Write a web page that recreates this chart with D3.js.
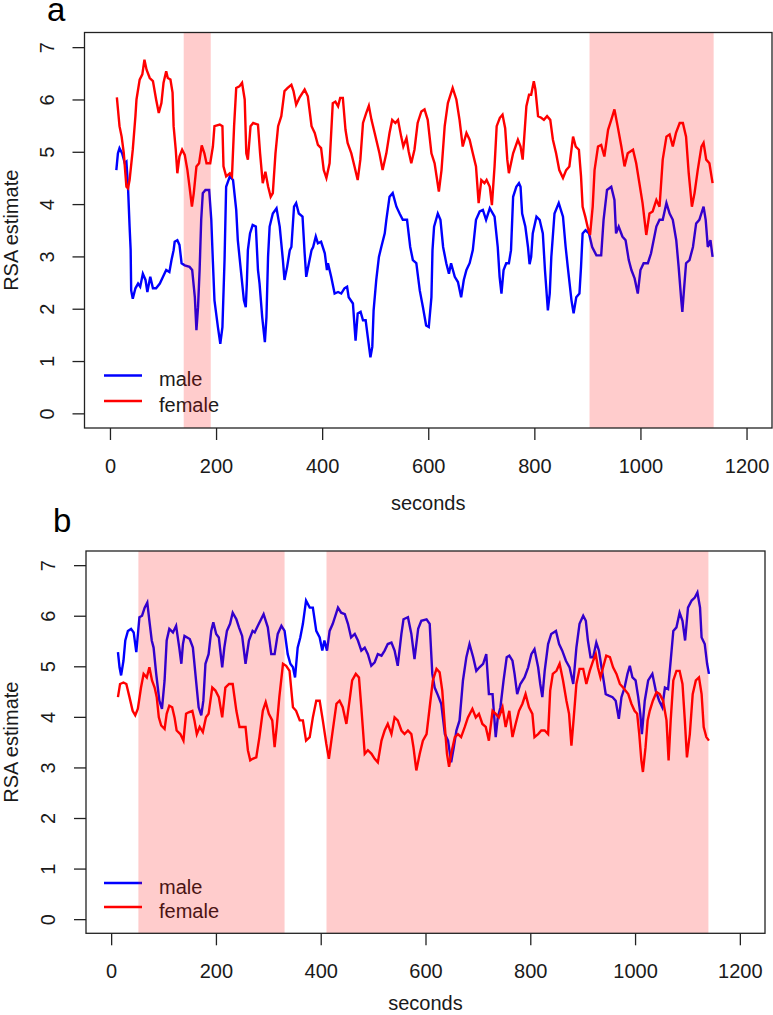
<!DOCTYPE html>
<html><head><meta charset="utf-8">
<script src="https://cdn.jsdelivr.net/npm/d3@7"></script>
<style>html,body{margin:0;padding:0;background:#fff}svg{display:block}</style>
</head><body>
<svg id="chart" width="773" height="1015"></svg>
<script>
// ---------------- data ----------------
const xTicks = [0, 200, 400, 600, 800, 1000, 1200];
const yTicks = [0, 1, 2, 3, 4, 5, 6, 7];
const seriesNames = ["male", "female"];

// panel a shaded intervals (seconds)
const aShade = [[139, 190], [904, 1138]];
// panel b shaded intervals (seconds)
const bShade = [[52, 331], [411, 1140]];

// panel a, male  [seconds, RSA]
const aMale = [[12,4.65],[15,4.97],[18,5.07],[23,4.97],[28,4.78],[31,4.81],[34,4.33],[37,3.57],[39,3.12],[40,2.35],[43,2.19],[48,2.39],[53,2.48],[57,2.42],[62,2.67],[67,2.55],[70.5,2.32],[76,2.61],[81,2.39],[87,2.39],[94,2.48],[100,2.61],[106,2.74],[112,2.70],[116,2.93],[120,3.12],[122,3.28],[127,3.31],[131,3.22],[135,2.87],[141,2.83],[150,2.80],[155,2.74],[160,2.22],[163,1.59],[166,2.03],[169,2.74],[172,3.70],[175,4.21],[180,4.27],[187,4.27],[191,3.70],[194,2.9],[197,2.16],[203.5,1.65],[208,1.33],[212,1.65],[216,2.93],[219,4.33],[226,4.53],[232,4.46],[238,3.89],[241,3.31],[248,2.61],[252.5,2.16],[256,2.03],[258,2.48],[260,3.12],[264,3.44],[269,3.60],[275,3.57],[279,2.74],[282,2.48],[287,1.84],[292,1.36],[295,1.84],[298,2.99],[301,3.57],[307,3.82],[314,3.92],[320,3.57],[326,2.93],[329,2.55],[334,2.80],[339,3.12],[342,3.18],[347,3.95],[351,4.02],[356,3.82],[363,3.76],[367,3.06],[370,2.61],[375,2.87],[380,3.12],[383,3.18],[388,3.38],[392,3.25],[398,3.28],[405,3.06],[409,2.74],[411,2.87],[417,2.61],[423.5,2.29],[430,2.32],[436,2.29],[442,2.39],[447,2.42],[450,2.22],[458,2.10],[463,1.39],[467,1.91],[472.5,1.94],[477,1.78],[482,1.78],[486,1.46],[491,1.07],[494.5,1.27],[497,1.97],[502,2.55],[507,2.99],[511.5,3.18],[518,3.44],[521,3.70],[527,4.14],[533,4.21],[540,3.95],[546,3.82],[552,3.70],[560,3.70],[566,3.18],[571,2.93],[577.5,2.87],[584,2.35],[590,2.03],[596,1.68],[601,1.65],[606,2.22],[608,3.12],[611,3.57],[618,3.82],[623,3.70],[628,3.18],[634,2.87],[639,2.67],[643,2.87],[650,2.61],[656,2.51],[662,2.22],[667,2.55],[672,2.74],[678,2.87],[684,3.12],[690,3.70],[697,3.86],[703,3.89],[709,3.70],[716,3.92],[725,3.76],[731,3.18],[734.5,2.61],[738,2.29],[742,2.74],[747,2.87],[752,2.87],[756,3.12],[760,4.14],[766,4.33],[771,4.40],[774,4.33],[777,3.82],[783,3.57],[788,3.18],[791,2.85],[794,2.99],[797,3.44],[804,3.76],[810,3.70],[816,3.44],[820,2.74],[825.5,1.97],[829,2.29],[832,2.99],[838,3.82],[846,4.02],[854,3.76],[859,3.18],[863,2.80],[870,2.16],[874,1.91],[879,2.22],[885,2.29],[888,2.80],[891,3.44],[896.5,3.50],[903,3.44],[909,3.18],[917,3.02],[926,3.02],[930.5,3.70],[937,4.27],[945,4.33],[951,4.08],[954,3.44],[959,3.57],[966,3.38],[972,3.31],[978,2.93],[983,2.74],[989,2.58],[995,2.29],[1000,2.74],[1006,2.87],[1014,2.87],[1020,3.06],[1030,3.57],[1036,3.70],[1042,3.70],[1049,4.02],[1055,3.82],[1061,3.70],[1067.5,3.31],[1072,2.80],[1077,2.16],[1079,1.94],[1082,2.35],[1086,2.87],[1092.5,2.93],[1099,3.18],[1105,3.63],[1111,3.70],[1119,3.95],[1123,3.70],[1127,3.18],[1132,3.31],[1136,2.99]];

// panel a, female
const aFemale = [[13,6.04],[18,5.49],[22,5.29],[26,4.98],[31,4.33],[34,4.30],[37,4.46],[43,5.04],[48,5.68],[50,6.0],[56,6.38],[61,6.48],[65,6.76],[69,6.57],[75,6.41],[81,6.35],[87,6.0],[92,5.74],[97,5.93],[101,6.32],[106,6.54],[109,6.41],[114,6.38],[118,6.13],[120,5.49],[124,5.04],[127,4.59],[131,4.91],[136,5.04],[141,4.94],[146,4.65],[150,4.33],[154.5,3.95],[158,4.21],[163,4.72],[168,4.78],[173,5.12],[178,4.97],[182,4.78],[189,4.78],[194,5.10],[197,5.49],[207,5.52],[212,5.49],[214,4.72],[219,4.53],[226,4.59],[230,4.53],[234,5.49],[238,6.22],[244,6.25],[249,6.32],[254,6.0],[257,4.97],[260,4.85],[265,5.49],[270,5.55],[279,5.52],[283,4.97],[288,4.40],[293,4.62],[298,4.34],[303,4.14],[307,4.21],[312,4.97],[317,5.49],[323,5.68],[329,6.16],[335,6.22],[342,6.28],[346,6.16],[351,5.90],[357,6.03],[367,6.19],[373,6.06],[380,5.49],[386,5.36],[392,5.13],[398,5.07],[403,4.65],[408,4.50],[414,4.78],[420,5.93],[425,5.96],[430,5.87],[434,6.03],[439,6.03],[444,5.42],[448,5.17],[455,4.97],[461,4.72],[467,4.46],[472,4.85],[477,5.55],[483,5.74],[488,5.88],[493,5.61],[499,5.36],[508,4.97],[514,4.65],[521,4.97],[527,5.36],[532,5.61],[538,5.55],[543,5.61],[549,5.29],[553,5.10],[559,5.26],[563,5.01],[568,4.78],[574,5.04],[580,5.55],[587,5.77],[593,5.81],[599,5.61],[606,4.97],[612,4.78],[620,4.24],[625,4.65],[631,5.49],[637,5.93],[646,6.22],[653,6.0],[659,5.61],[665,5.10],[672,5.36],[678,5.23],[684,4.97],[690,4.72],[695,4.02],[700,4.46],[706,4.40],[710,4.46],[716,4.33],[720,3.98],[725,4.72],[729,5.49],[735,5.65],[740,5.71],[745,5.45],[749,4.85],[752,4.59],[760,4.97],[769,5.23],[774,5.10],[778,4.85],[785,5.87],[790,6.09],[794,6.09],[799,6.35],[802,6.19],[807,5.68],[813,5.65],[818,5.61],[824,5.68],[830,5.61],[835,5.23],[841,4.97],[847,4.65],[854,4.50],[860,4.65],[866,4.72],[873,5.29],[878,5.10],[884,5.04],[888,4.53],[891,3.95],[896,3.76],[901,3.54],[905,3.41],[910,3.95],[913.5,4.65],[920,5.10],[926,5.13],[932,4.91],[939,5.42],[945,5.61],[951,5.81],[957,5.49],[964,5.10],[970,4.72],[976,4.97],[986,5.04],[992,4.78],[998,4.40],[1004,4.02],[1011,3.41],[1017,3.82],[1023,3.86],[1030,4.08],[1036,3.95],[1042,4.85],[1049,5.29],[1055,5.33],[1061,5.10],[1067,5.36],[1074,5.55],[1080,5.55],[1086,5.29],[1091,4.59],[1097,3.95],[1102,4.21],[1108,4.65],[1115,5.10],[1119,5.17],[1124,4.85],[1130,4.78],[1136,4.40]];

// panel b, male
const bMale = [[13,5.28],[16,4.98],[19,4.82],[23.5,5.11],[27,5.51],[32,5.70],[38,5.74],[43,5.67],[48,5.28],[50,5.51],[54,5.97],[59,6.0],[64,6.16],[69,6.26],[73,5.90],[77.5,5.51],[81,5.37],[86,4.85],[92,4.32],[97,4.16],[102,4.72],[106,5.51],[111,5.74],[118,5.67],[124,5.80],[130,5.37],[134,5.05],[137,5.44],[140,5.60],[150,5.54],[156,5.37],[162,4.72],[167,4.19],[172,4.03],[176,4.32],[180,5.05],[186,5.24],[191,5.70],[195,5.87],[200.5,5.64],[205.5,5.57],[212,4.98],[216,5.37],[221,5.70],[227,5.84],[232,6.06],[239,5.93],[244,5.77],[250,5.60],[256.5,5.05],[263,5.51],[270,5.70],[274,5.67],[280,5.80],[291,6.03],[299,5.77],[305.6,5.24],[312,5.24],[318,5.64],[325,5.80],[331,5.70],[337,5.24],[342,5.05],[347,4.98],[351,4.78],[356,5.37],[361,5.57],[366,5.84],[372,6.30],[379,6.16],[385,6.16],[391.5,5.70],[398,5.57],[403,5.31],[407,5.51],[412,5.31],[417,5.70],[423,5.84],[433,6.16],[439,6.06],[446,6.03],[452,5.84],[458,5.57],[465,5.64],[471,5.51],[477.5,5.31],[484,5.37],[490,5.24],[496.5,5.01],[503,5.08],[509,5.24],[516,5.21],[522,5.31],[528,5.44],[535,5.47],[541,5.31],[547,5.01],[554,5.64],[558,5.93],[566.5,5.97],[573,5.64],[579,5.14],[586,5.74],[592,5.90],[602,5.93],[608,5.84],[613,4.85],[617.5,4.58],[624,4.42],[630,4.26],[637,3.66],[643,3.53],[649,3.10],[654,3.40],[659,3.73],[665,3.93],[671.5,4.72],[678,5.18],[684,5.44],[691,5.18],[697,4.91],[703,4.98],[710,5.05],[716,5.24],[721,4.45],[728,4.45],[734,3.60],[738,3.99],[743,4.19],[749,4.72],[755,5.18],[760,5.21],[766,5.11],[770,4.85],[775,4.45],[781,4.65],[789,4.78],[796,4.98],[802,5.24],[808,5.34],[815,4.98],[819,4.65],[823,4.39],[827.5,4.91],[834,5.44],[840,5.64],[849,5.70],[855,5.44],[861,5.31],[868,5.11],[875,4.98],[882,4.65],[888,5.37],[894,5.84],[901,6.0],[906,5.90],[910,5.51],[915,5.18],[920,5.18],[926,5.47],[931,5.31],[936,4.98],[940,4.72],[944,4.45],[950,4.42],[957,4.39],[963,4.32],[969,3.96],[974,4.39],[980,4.58],[985.5,4.85],[990,5.01],[995,4.78],[1001,4.72],[1006,4.39],[1010,4.06],[1013,3.66],[1018.5,4.32],[1025,4.72],[1033,4.85],[1039.5,4.52],[1046,4.32],[1052,4.19],[1057,4.58],[1063,4.55],[1068,5.11],[1073,5.70],[1079,5.77],[1085,6.06],[1090.5,5.90],[1095.5,5.51],[1101,6.16],[1108,6.30],[1114,6.36],[1119,6.46],[1124,6.16],[1127,5.57],[1133,5.44],[1137.5,5.05],[1141,4.85]];

// panel b, female
const bFemale = [[13,4.39],[17,4.65],[23.5,4.68],[29,4.65],[35,4.39],[41,4.12],[46,4.03],[51,4.16],[57,4.58],[62,4.85],[68,4.78],[73,4.98],[78,4.72],[83,4.58],[87,4.39],[91,3.99],[95.5,3.83],[102,3.76],[106,4.06],[111,4.22],[116.5,4.19],[121,3.99],[125,3.73],[132,3.66],[138,3.53],[143,4.06],[148,4.09],[155,4.12],[159,3.93],[163.5,3.66],[169,3.80],[175,3.70],[181,3.99],[186,4.06],[193,4.58],[199,4.52],[205.5,4.39],[212,3.99],[218,4.58],[225,4.65],[232,4.65],[239,4.12],[245,3.80],[256.5,3.80],[261,3.34],[265.5,3.14],[270,3.17],[277,3.20],[283,3.60],[289.5,4.12],[295,4.29],[301,4.06],[307.5,3.93],[312,3.40],[316,3.80],[321,4.39],[328,5.05],[334,5.01],[340.5,4.91],[347,4.19],[353,4.12],[360,3.93],[366,3.93],[372,3.53],[379,3.60],[385,3.99],[391.5,4.32],[398,4.32],[404,3.93],[410.6,3.47],[415.6,3.17],[422,3.66],[430,4.26],[436,4.32],[442,4.19],[449,3.86],[455,4.32],[460,4.72],[467,4.85],[473,4.78],[477.5,4.19],[484,3.27],[490,3.34],[497,3.27],[503,3.17],[509,3.10],[516,3.53],[522,3.73],[528,3.86],[535,3.66],[541,3.99],[547,3.93],[554,3.73],[560,3.66],[566.5,3.73],[573,3.66],[577,3.40],[582.5,2.94],[589,3.27],[595,3.53],[602,3.66],[608,4.19],[614,4.72],[621,4.95],[627,4.88],[632,4.52],[637,3.80],[641,3.27],[645,3.01],[649,3.27],[656,3.60],[662,3.66],[668,3.60],[675,3.80],[681,3.99],[689.5,4.16],[696,3.99],[702,4.06],[708.6,3.86],[715,3.80],[721,3.53],[728,4.12],[734,4.06],[740,3.99],[747,4.19],[753,3.80],[760,4.12],[766,3.60],[772,3.86],[778.5,4.12],[785,4.26],[791,4.45],[797.6,4.19],[804,4.06],[808,3.60],[815,3.66],[821,3.73],[827.5,3.73],[834,3.66],[838,4.52],[843,4.85],[850,4.91],[856,5.05],[862.5,4.72],[869,4.32],[874,4.06],[878.5,3.43],[883,3.99],[888,4.65],[894,4.95],[901,4.95],[907,4.65],[913.5,4.91],[920,5.11],[925,5.24],[929,4.98],[934,4.78],[939,4.98],[945,5.21],[952,5.18],[958,4.98],[964.5,4.85],[971,4.65],[977,4.58],[987,4.45],[993,4.26],[999,4.12],[1004,4.06],[1008,3.66],[1012,3.14],[1015,2.91],[1020,3.40],[1024,3.93],[1028,4.12],[1034,4.32],[1041,4.49],[1047,4.45],[1053.5,4.32],[1060,3.93],[1064,3.14],[1068,3.93],[1073,4.72],[1079,4.91],[1085,4.91],[1090.5,4.65],[1095,3.93],[1099,3.20],[1104.5,3.66],[1110,4.45],[1116,4.72],[1122,4.78],[1127,4.45],[1131,3.80],[1136,3.60],[1141,3.53]];

// ---------------- drawing ----------------
const FONT = "'Liberation Sans', Arial, Helvetica, sans-serif";
const TXT = "#1a1a1a";
const svg = d3.select("#chart");
svg.append("rect").attr("width", 773).attr("height", 1015).attr("fill", "#fff");

const panels = [
  { label: "a", male: aMale, female: aFemale, shade: aShade,
    box: { l: 84.5, r: 772, t: 32.5, b: 428 },
    labelPos: [47, 21], yTickLabX: 54, xTickLabY: 473, xTitleY: 510, yTitleX: 18,
    legY: [375.5, 401] },
  { label: "b", male: bMale, female: bFemale, shade: bShade,
    box: { l: 86, r: 765, t: 551, b: 933.3 },
    labelPos: [53, 532], yTickLabX: 55, xTickLabY: 978, xTitleY: 1010, yTitleX: 18,
    legY: [883, 907] }
];

panels.forEach(p => {
  const B = p.box;
  const x = d3.scaleLinear().domain([-48, 1248]).range([B.l, B.r]);
  const y = d3.scaleLinear().domain([-0.28, 7.28]).range([B.b, B.t]);
  const g = svg.append("g");

  const line = d3.line().x(d => x(d[0])).y(d => y(d[1]));
  g.append("path").datum(p.male).attr("d", line)
    .attr("fill", "none").attr("stroke", "#0000ff").attr("stroke-width", 2.4)
    .attr("stroke-linejoin", "miter");
  g.append("path").datum(p.female).attr("d", line)
    .attr("fill", "none").attr("stroke", "#ff0000").attr("stroke-width", 2.4)
    .attr("stroke-linejoin", "miter");

  // legend
  const legColors = ["#0000ff", "#ff0000"];
  seriesNames.forEach((name, i) => {
    g.append("line").attr("x1", 104).attr("x2", 142)
      .attr("y1", p.legY[i]).attr("y2", p.legY[i])
      .attr("stroke", legColors[i]).attr("stroke-width", 2.4);
    g.append("text").attr("x", 159).attr("y", p.legY[i] + 10.5)
      .attr("font-family", FONT).attr("font-size", 20).attr("fill", TXT).text(name);
  });

  // translucent shading drawn over the lines
  g.selectAll("rect.shade").data(p.shade).enter().append("rect")
    .attr("class", "shade")
    .attr("x", d => x(d[0])).attr("width", d => x(d[1]) - x(d[0]))
    .attr("y", B.t).attr("height", B.b - B.t)
    .attr("fill", "#ff0000").attr("fill-opacity", 0.2);

  // box
  g.append("rect").attr("x", B.l).attr("y", B.t)
    .attr("width", B.r - B.l).attr("height", B.b - B.t)
    .attr("fill", "none").attr("stroke", "#222").attr("stroke-width", 1.3);

  // x axis
  const xAxis = d3.axisBottom(x).tickValues(xTicks).tickSize(12).tickFormat(d3.format("d"));
  const xg = g.append("g").attr("transform", `translate(0,${B.b})`).call(xAxis);
  xg.select(".domain").remove();
  xg.selectAll(".tick line").attr("stroke", "#222").attr("stroke-width", 1.3);
  xg.selectAll(".tick text").attr("y", p.xTickLabY - B.b).attr("dy", null)
    .attr("font-family", FONT).attr("font-size", 20).attr("fill", TXT);

  // y axis
  const yAxis = d3.axisLeft(y).tickValues(yTicks).tickSize(12).tickFormat(d3.format("d"));
  const yg = g.append("g").attr("transform", `translate(${B.l},0)`).call(yAxis);
  yg.select(".domain").remove();
  yg.selectAll(".tick line").attr("stroke", "#222").attr("stroke-width", 1.3);
  yg.selectAll(".tick text")
    .attr("x", null).attr("dy", null)
    .attr("text-anchor", "middle")
    .attr("transform", `translate(${p.yTickLabX - B.l},0) rotate(-90)`)
    .attr("font-family", FONT).attr("font-size", 20).attr("fill", TXT);

  // titles
  g.append("text").attr("x", x(600)).attr("y", p.xTitleY)
    .attr("text-anchor", "middle").attr("font-family", FONT).attr("font-size", 20)
    .attr("fill", TXT).text("seconds");
  g.append("text")
    .attr("transform", `translate(${p.yTitleX},${(B.t + B.b) / 2}) rotate(-90)`)
    .attr("text-anchor", "middle").attr("font-family", FONT).attr("font-size", 20)
    .attr("fill", TXT).text("RSA estimate");
  g.append("text").attr("x", p.labelPos[0]).attr("y", p.labelPos[1])
    .attr("font-family", FONT).attr("font-size", 33).attr("fill", "#000").text(p.label);
});
</script>
</body></html>
